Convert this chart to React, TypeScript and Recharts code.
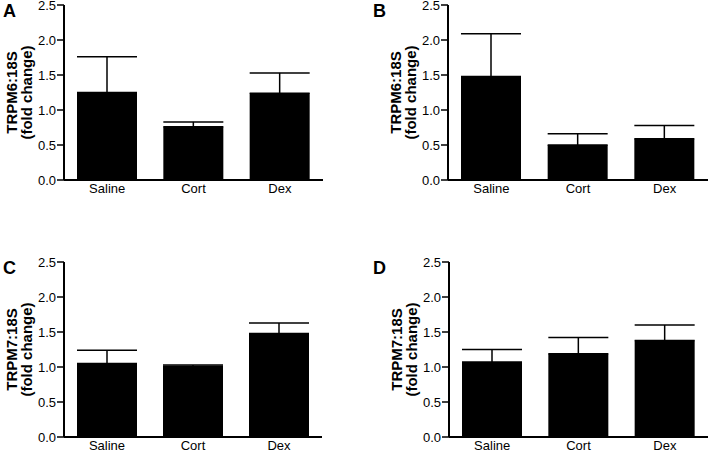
import { BarChart, Bar, XAxis, YAxis, ErrorBar } from "recharts";

const categories = ["Saline", "Cort", "Dex"];
const yTicks = [0, 0.5, 1.0, 1.5, 2.0, 2.5];

// mean and upper SEM per group
const trpm6ColonMean = [1.25, 0.76, 1.24];
const trpm6ColonSem = [0.51, 0.07, 0.29];
const trpm6KidneyMean = [1.48, 0.5, 0.59];
const trpm6KidneySem = [0.61, 0.16, 0.19];
const trpm7ColonMean = [1.05, 1.01, 1.48];
const trpm7ColonSem = [0.19, 0.02, 0.15];
const trpm7KidneyMean = [1.07, 1.19, 1.38];
const trpm7KidneySem = [0.18, 0.23, 0.22];

const FONT = '"Liberation Sans", Arial, sans-serif';

function buildRows(means: number[], sems: number[]) {
  return categories.map((name, i) => ({
    name,
    value: means[i],
    err: [0, sems[i]],
  }));
}

function YTitle({ viewBox, lines }: any) {
  const axisX = viewBox.x + viewBox.width;
  const cy = viewBox.y + viewBox.height / 2;
  return (
    <g>
      {lines.map((t: string, i: number) => {
        const bx = axisX - 47 + i * 15;
        return (
          <text
            key={t}
            x={bx}
            y={cy}
            transform={`rotate(-90, ${bx}, ${cy})`}
            textAnchor="middle"
            style={{ fontFamily: FONT, fontWeight: 700, fontSize: 15 }}
            fill="#000"
          >
            {t}
          </text>
        );
      })}
    </g>
  );
}

interface PanelProps {
  letter: string;
  gene: string;
  means: number[];
  sems: number[];
  left: number;
  top: number;
  axisWidth: number;
  rightMargin: number;
}

function Panel({ letter, gene, means, sems, left, top, axisWidth, rightMargin }: PanelProps) {
  const rows = buildRows(means, sems);
  const onLeft = letter === "A" || letter === "C";
  return (
    <div style={{ position: "absolute", left, top, width: 355, height: 200 }}>
      <BarChart
        width={355}
        height={200}
        data={rows}
        margin={{ top: 5, right: rightMargin, left: 0, bottom: 0 }}
        barSize={60}
      >
        <XAxis
          dataKey="name"
          height={20}
          tickLine={false}
          tickSize={0}
          tickMargin={4}
          axisLine={{ stroke: "#000", strokeWidth: 2 }}
          tick={{ fill: "#000", fontSize: 13, fontFamily: FONT }}
        />
        <YAxis
          width={axisWidth}
          domain={[0, 2.5]}
          ticks={yTicks}
          interval={0}
          tickFormatter={(v: number) => v.toFixed(1)}
          tickSize={7}
          tickMargin={1}
          axisLine={{ stroke: "#000", strokeWidth: 2 }}
          tickLine={{ stroke: "#000", strokeWidth: 1.5 }}
          tick={{ fill: "#000", fontSize: 13, fontFamily: FONT }}
          label={<YTitle lines={[gene, "(fold change)"]} />}
        />
        <Bar dataKey="value" fill="#000" isAnimationActive={false}>
          <ErrorBar
            dataKey="err"
            direction="y"
            width={30}
            stroke="#000"
            strokeWidth={1.5}
            isAnimationActive={false}
          />
        </Bar>
      </BarChart>
      <div
        style={{
          position: "absolute",
          left: onLeft ? 3 : 18,
          top: 0,
          fontFamily: FONT,
          fontWeight: "bold",
          fontSize: 18,
          lineHeight: "22px",
          color: "#000",
        }}
      >
        {letter}
      </div>
    </div>
  );
}

export default function App() {
  return (
    <div
      style={{
        position: "fixed",
        left: 0,
        top: 0,
        width: 710,
        height: 452,
        overflow: "hidden",
        background: "#fff",
      }}
    >
      <Panel letter="A" gene="TRPM6:18S" means={trpm6ColonMean} sems={trpm6ColonSem}
        left={0} top={0} axisWidth={64} rightMargin={32} />
      <Panel letter="B" gene="TRPM6:18S" means={trpm6KidneyMean} sems={trpm6KidneySem}
        left={355} top={0} axisWidth={93} rightMargin={2} />
      <Panel letter="C" gene="TRPM7:18S" means={trpm7ColonMean} sems={trpm7ColonSem}
        left={0} top={257} axisWidth={64} rightMargin={33} />
      <Panel letter="D" gene="TRPM7:18S" means={trpm7KidneyMean} sems={trpm7KidneySem}
        left={355} top={257} axisWidth={94} rightMargin={2} />
    </div>
  );
}
